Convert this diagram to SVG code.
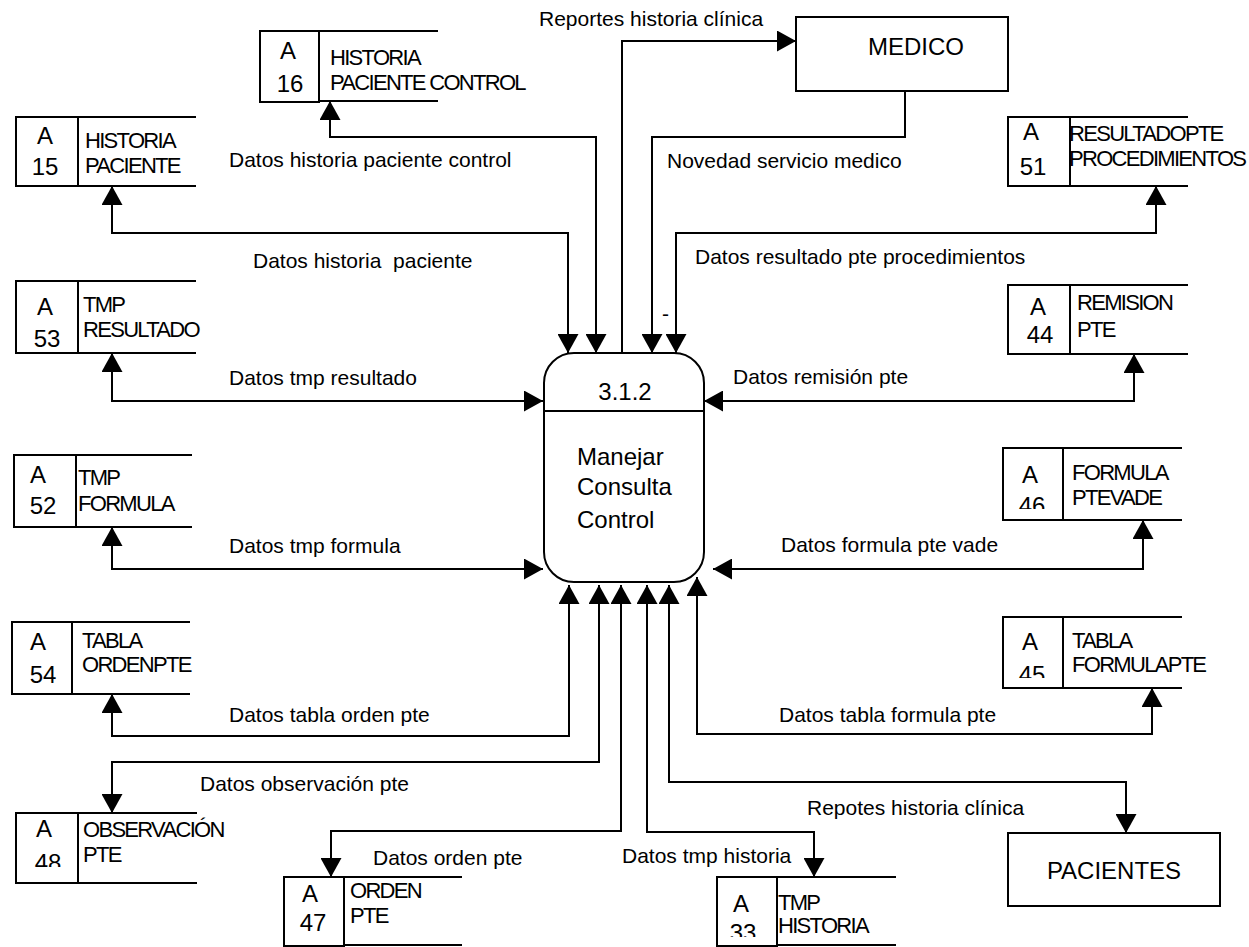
<svg xmlns="http://www.w3.org/2000/svg" width="1249" height="947" viewBox="0 0 1249 947">
  <style>
    .ln { fill: none; stroke: #000; stroke-width: 2; marker-end: url(#ah); }
    .both { marker-start: url(#ah); }
    .box { fill: #fff; stroke: #000; stroke-width: 2; }
    .rule { stroke: #000; stroke-width: 2; }
    text { font-family: "Liberation Sans", Arial, sans-serif; fill: #000; }
    .lbl { font-size: 21px; }
    .sid { font-size: 24px; text-anchor: middle; }
    .snm { font-size: 22px; letter-spacing: -1.7px; }
    .ent { font-size: 24px; }
    .proc { font-size: 24px; }
  </style>
  <defs>
    <marker id="ah" viewBox="0 0 19 21" refX="19" refY="10.5" markerWidth="19" markerHeight="21" markerUnits="userSpaceOnUse" orient="auto-start-reverse">
      <path d="M0,0 L19,10.5 L0,21 z" fill="#000"/>
    </marker>
    <clipPath id="cut46"><rect x="1003" y="440" width="60" height="69"/></clipPath>
    <clipPath id="cut45"><rect x="1003" y="610" width="60" height="68"/></clipPath>
    <clipPath id="cut48"><rect x="16" y="805" width="62" height="62"/></clipPath>
    <clipPath id="cut33"><rect x="717" y="870" width="60" height="67"/></clipPath>
  </defs>

  <rect width="1249" height="947" fill="#fff"/>

  <!-- data flows -->
  <g id="connectors">
    <path class="ln both" d="M330,101 V137 H596 V353"/>
    <path class="ln both" d="M112,186 V233 H568 V353"/>
    <path class="ln" d="M622,353 V41 H796"/>
    <path class="ln" d="M905,91 V137 H652 V353"/>
    <path class="ln both" d="M1156,186 V233 H676 V353"/>
    <path class="ln both" d="M112,353 V401 H543"/>
    <path class="ln both" d="M1134,354 V401 H704"/>
    <path class="ln both" d="M112,527 V569 H543"/>
    <path class="ln both" d="M1143,520 V569 H713"/>
    <path class="ln both" d="M112,694 V736 H569 V585"/>
    <path class="ln both" d="M599,585 V762 H112 V813"/>
    <path class="ln both" d="M621,585 V831 H331 V877"/>
    <path class="ln both" d="M647,585 V832 H814 V877"/>
    <path class="ln both" d="M669,585 V782 H1126 V833"/>
    <path class="ln both" d="M697,577 V734 H1152 V688"/>

    <text class="lbl" x="539" y="26">Reportes historia clínica</text>
    <text class="lbl" x="229" y="167">Datos historia paciente control</text>
    <text class="lbl" x="667" y="168">Novedad servicio medico</text>
    <text class="lbl" x="253" y="268" xml:space="preserve">Datos historia  paciente</text>
    <text class="lbl" x="695" y="264">Datos resultado pte procedimientos</text>
    <text class="lbl" x="662" y="321">-</text>
    <text class="lbl" x="229" y="385">Datos tmp resultado</text>
    <text class="lbl" x="733" y="384">Datos remisión pte</text>
    <text class="lbl" x="229" y="553">Datos tmp formula</text>
    <text class="lbl" x="781" y="552">Datos formula pte vade</text>
    <text class="lbl" x="229" y="722">Datos tabla orden pte</text>
    <text class="lbl" x="779" y="722">Datos tabla formula pte</text>
    <text class="lbl" x="200" y="791">Datos observación pte</text>
    <text class="lbl" x="807" y="815">Repotes historia clínica</text>
    <text class="lbl" x="373" y="865">Datos orden pte</text>
    <text class="lbl" x="622" y="863">Datos tmp historia</text>
  </g>

  <!-- process -->
  <g id="process-3-1-2">
    <rect class="box" x="544" y="353" width="160" height="229" rx="30" ry="30"/>
    <line class="rule" x1="544" y1="411" x2="704" y2="411"/>
    <text class="proc" x="625" y="400" text-anchor="middle">3.1.2</text>
    <text class="proc" x="577" y="465">Manejar</text>
    <text class="proc" x="577" y="495">Consulta</text>
    <text class="proc" x="577" y="528">Control</text>
  </g>

  <!-- external entities -->
  <g id="medico">
    <rect class="box" x="796" y="17" width="212" height="74"/>
    <text class="ent" x="868" y="55">MEDICO</text>
  </g>
  <g id="pacientes">
    <rect class="box" x="1008" y="833" width="212" height="73"/>
    <text class="ent" x="1114" y="879" text-anchor="middle" font-size="25">PACIENTES</text>
  </g>

  <!-- data stores -->
  <g id="store-15">
    <rect class="box" x="16" y="117" width="62" height="69"/>
    <line class="rule" x1="78" y1="117" x2="196" y2="117"/>
    <line class="rule" x1="78" y1="186" x2="196" y2="186"/>
    <text class="sid" x="45" y="144">A</text>
    <text class="sid" x="45" y="175">15</text>
    <text class="snm" x="85" y="148">HISTORIA</text>
    <text class="snm" x="85" y="173">PACIENTE</text>
  </g>
  <g id="store-16">
    <rect class="box" x="260" y="31" width="59" height="71"/>
    <line class="rule" x1="319" y1="31" x2="438" y2="31"/>
    <line class="rule" x1="319" y1="101" x2="438" y2="101"/>
    <text class="sid" x="288" y="59">A</text>
    <text class="sid" x="290" y="92">16</text>
    <text class="snm" x="330" y="65">HISTORIA</text>
    <text class="snm" x="330" y="90">PACIENTE CONTROL</text>
  </g>
  <g id="store-51">
    <rect class="box" x="1008" y="117" width="62" height="69"/>
    <line class="rule" x1="1070" y1="117" x2="1188" y2="117"/>
    <line class="rule" x1="1070" y1="186" x2="1188" y2="186"/>
    <text class="sid" x="1031" y="140">A</text>
    <text class="sid" x="1033" y="175">51</text>
    <text class="snm" x="1069" y="141">RESULTADOPTE</text>
    <text class="snm" x="1069" y="166">PROCEDIMIENTOS</text>
  </g>
  <g id="store-53">
    <rect class="box" x="16" y="281" width="62" height="72"/>
    <line class="rule" x1="78" y1="281" x2="196" y2="281"/>
    <line class="rule" x1="78" y1="353" x2="196" y2="353"/>
    <text class="sid" x="45" y="315">A</text>
    <text class="sid" x="47" y="347">53</text>
    <text class="snm" x="83" y="312">TMP</text>
    <text class="snm" x="83" y="337">RESULTADO</text>
  </g>
  <g id="store-44">
    <rect class="box" x="1008" y="285" width="62" height="69"/>
    <line class="rule" x1="1070" y1="285" x2="1188" y2="285"/>
    <line class="rule" x1="1070" y1="354" x2="1188" y2="354"/>
    <text class="sid" x="1038" y="315">A</text>
    <text class="sid" x="1040" y="343">44</text>
    <text class="snm" x="1077" y="310">REMISION</text>
    <text class="snm" x="1077" y="337">PTE</text>
  </g>
  <g id="store-52">
    <rect class="box" x="14" y="455" width="62" height="72"/>
    <line class="rule" x1="76" y1="455" x2="192" y2="455"/>
    <line class="rule" x1="76" y1="527" x2="192" y2="527"/>
    <text class="sid" x="38" y="483">A</text>
    <text class="sid" x="43" y="514">52</text>
    <text class="snm" x="78" y="485">TMP</text>
    <text class="snm" x="78" y="511">FORMULA</text>
  </g>
  <g id="store-54">
    <rect class="box" x="12" y="622" width="60" height="72"/>
    <line class="rule" x1="72" y1="622" x2="190" y2="622"/>
    <line class="rule" x1="72" y1="694" x2="190" y2="694"/>
    <text class="sid" x="38" y="650">A</text>
    <text class="sid" x="43" y="683">54</text>
    <text class="snm" x="82" y="648">TABLA</text>
    <text class="snm" x="82" y="672">ORDENPTE</text>
  </g>
  <g id="store-46">
    <rect class="box" x="1003" y="448" width="60" height="72"/>
    <line class="rule" x1="1063" y1="448" x2="1182" y2="448"/>
    <line class="rule" x1="1063" y1="520" x2="1182" y2="520"/>
    <text class="sid" x="1030" y="483">A</text>
    <text class="sid" x="1032" y="514" clip-path="url(#cut46)">46</text>
    <text class="snm" x="1072" y="480">FORMULA</text>
    <text class="snm" x="1072" y="505">PTEVADE</text>
  </g>
  <g id="store-45">
    <rect class="box" x="1003" y="617" width="60" height="71"/>
    <line class="rule" x1="1063" y1="617" x2="1182" y2="617"/>
    <line class="rule" x1="1063" y1="688" x2="1182" y2="688"/>
    <text class="sid" x="1030" y="650">A</text>
    <text class="sid" x="1032" y="683" clip-path="url(#cut45)">45</text>
    <text class="snm" x="1072" y="648">TABLA</text>
    <text class="snm" x="1072" y="672">FORMULAPTE</text>
  </g>
  <g id="store-48">
    <rect class="box" x="16" y="813" width="62" height="70"/>
    <line class="rule" x1="78" y1="813" x2="197" y2="813"/>
    <line class="rule" x1="78" y1="883" x2="197" y2="883"/>
    <text class="sid" x="44" y="837">A</text>
    <text class="sid" x="48" y="871" clip-path="url(#cut48)">48</text>
    <text class="snm" x="83" y="837">OBSERVACIÓN</text>
    <text class="snm" x="83" y="862">PTE</text>
  </g>
  <g id="store-47">
    <rect class="box" x="284" y="877" width="60" height="69"/>
    <line class="rule" x1="344" y1="877" x2="462" y2="877"/>
    <line class="rule" x1="344" y1="945" x2="462" y2="945"/>
    <text class="sid" x="310" y="902">A</text>
    <text class="sid" x="313" y="931">47</text>
    <text class="snm" x="350" y="898" font-size="21">ORDEN</text>
    <text class="snm" x="350" y="923" font-size="21">PTE</text>
  </g>
  <g id="store-33">
    <rect class="box" x="717" y="877" width="60" height="69"/>
    <line class="rule" x1="777" y1="877" x2="896" y2="877"/>
    <line class="rule" x1="777" y1="945" x2="896" y2="945"/>
    <text class="sid" x="741" y="912">A</text>
    <text class="sid" x="743" y="941" clip-path="url(#cut33)">33</text>
    <text class="snm" x="778" y="910">TMP</text>
    <text class="snm" x="778" y="933">HISTORIA</text>
  </g>
</svg>
